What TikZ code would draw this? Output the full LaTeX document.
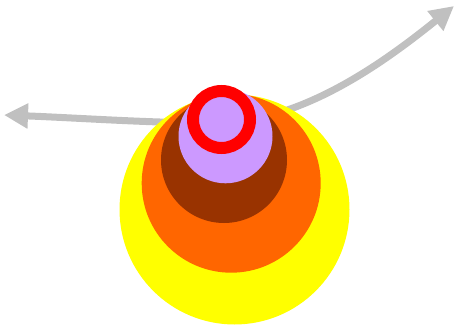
\documentclass[tikz,border=0pt]{standalone}
\usetikzlibrary{arrows.meta}
\definecolor{cyellow}{HTML}{FFFF00}
\definecolor{corange}{HTML}{FF6600}
\definecolor{cbrown}{HTML}{993300}
\definecolor{clav}{HTML}{CC99FF}
\definecolor{cred}{HTML}{FF0000}
\definecolor{cgray}{HTML}{C0C0C0}
\begin{document}
\begin{tikzpicture}[x=1pt,y=-1pt,
  disc/.style={circle,inner sep=0pt,outer sep=0pt,draw=none},
  garrow/.style={draw=cgray,line width=7pt,{Triangle[length=24pt,width=24pt]}-{Triangle[length=24pt,width=24pt]}}]
\useasboundingbox (0,0) rectangle (456,329);
\coordinate (L) at (4,115);
\coordinate (M) at (215,123);
\coordinate (R) at (454,6);
\draw[garrow] (L) .. controls (80,118) and (150,123) .. (M) .. controls (300,123) and (382,64) .. (R);
\node[disc,fill=cyellow,minimum size=230pt] (yel) at (234.5,209.5) {};
\node[disc,fill=corange,minimum size=179pt] (ora) at (231.2,183.2) {};
\node[disc,fill=cbrown,minimum size=126pt] (bro) at (224,160) {};
\node[disc,fill=clav,minimum size=94pt] (lav) at (225.5,136.3) {};
\node[disc,fill=clav,draw=cred,line width=12pt,minimum size=57pt] (ring) at (221.5,119.5) {};
\end{tikzpicture}
\end{document}
